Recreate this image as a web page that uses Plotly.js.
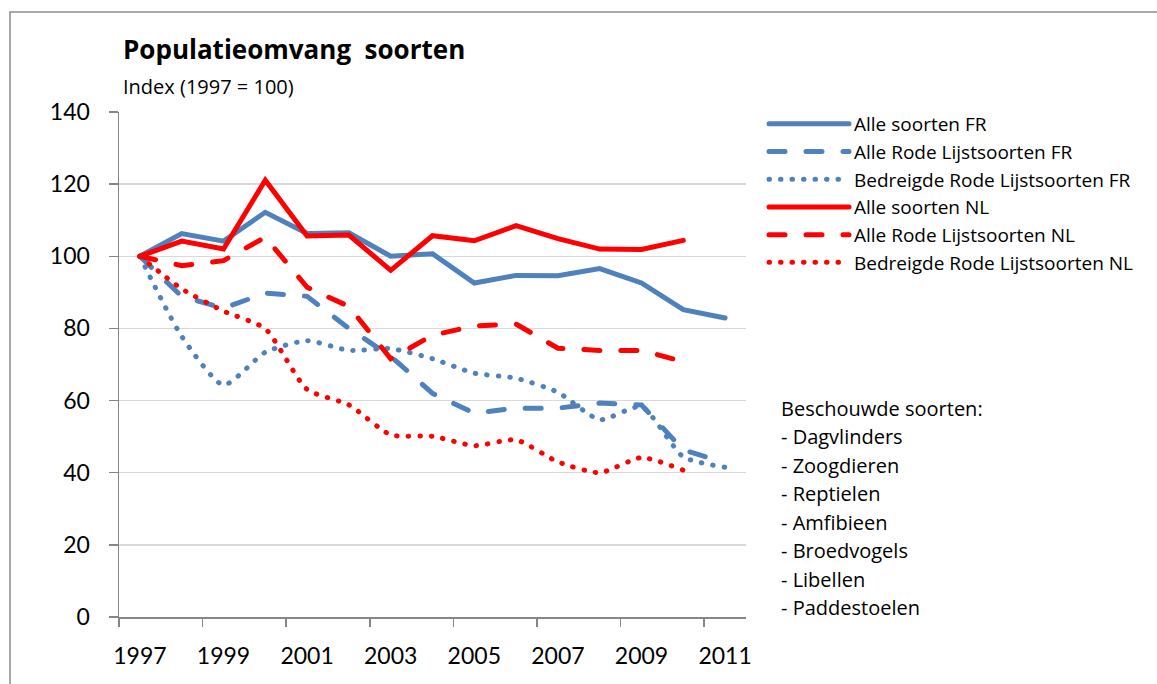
<!DOCTYPE html>
<html>
<head>
<meta charset="utf-8">
<script src="https://cdn.plot.ly/plotly-3.0.1.min.js"></script>
<style>html,body{margin:0;padding:0;background:#fff;}#chart{width:1157px;height:684px;}
#chart path.js-line{stroke-linecap:round;}</style>
</head>
<body>
<div id="chart"></div>
<script>
// ---- data ----
var years = [1997, 1998, 1999, 2000, 2001, 2002, 2003, 2004, 2005, 2006, 2007, 2008, 2009, 2010, 2011];
var alleSoortenFR = [100, 106.3, 104.2, 112.2, 106.3, 106.5, 100.0, 100.7, 92.6, 94.7, 94.6, 96.6, 92.6, 85.2, 82.9];
var rodeLijstFR = [100, 88.9, 85.6, 89.8, 88.9, 80.0, 72.3, 62.0, 56.5, 57.9, 57.9, 59.3, 58.8, 46.3, 42.8];
var bedreigdFR = [100, 77.8, 64.3, 73.4, 76.6, 73.9, 74.4, 71.6, 67.6, 66.2, 62.3, 54.7, 58.3, 44.4, 41.5];
var alleSoortenNL = [100, 104.2, 102.0, 121.1, 105.6, 105.9, 96.1, 105.7, 104.3, 108.5, 104.9, 102.0, 101.9, 104.4];
var rodeLijstNL = [100, 97.4, 98.8, 105.3, 91.4, 86.1, 71.6, 78.1, 80.7, 81.2, 74.5, 73.9, 73.9, 70.8];
var bedreigdNL = [100, 91.0, 84.8, 79.9, 63.1, 58.8, 50.5, 50.1, 47.5, 49.1, 43.0, 40.0, 44.2, 40.7];
var seriesNames = ["Alle soorten FR", "Alle Rode Lijstsoorten FR", "Bedreigde Rode Lijstsoorten FR",
                   "Alle soorten NL", "Alle Rode Lijstsoorten NL", "Bedreigde Rode Lijstsoorten NL"];
var xTickLabels = ["1997", "1999", "2001", "2003", "2005", "2007", "2009", "2011"];
var xTickVals = [1997, 1999, 2001, 2003, 2005, 2007, 2009, 2011];
var chartTitle = "Populatieomvang  soorten";
var yLabel = "Index (1997 = 100)";
var noteLines = ["Beschouwde soorten:", "- Dagvlinders", "- Zoogdieren", "- Reptielen", "- Amfibieen", "- Broedvogels", "- Libellen", "- Paddestoelen"];

// ---- styles ----
var BLUE = "#4F81BD", RED = "#FF0000";
var FONT = "'Open Sans', Lato, sans-serif";
var TICKFONT = "Lato, 'Open Sans', sans-serif";
var DASH = "16px,21px", DOT = "0.5px,11px";

function tr(y, name, color, dash, shape) {
  return {
    x: years.slice(0, y.length), y: y, name: name, type: "scatter", mode: "lines",
    line: {color: color, width: 5, dash: dash, shape: shape || "linear", smoothing: 0.6}
  };
}
var data = [
  tr(alleSoortenFR, seriesNames[0], BLUE, "solid"),
  tr(rodeLijstFR, seriesNames[1], BLUE, DASH),
  tr(bedreigdFR, seriesNames[2], BLUE, DOT, "spline"),
  tr(alleSoortenNL, seriesNames[3], RED, "solid"),
  tr(rodeLijstNL, seriesNames[4], RED, DASH),
  tr(bedreigdNL, seriesNames[5], RED, DOT, "spline")
];

// layout helpers (pixel -> paper)
var L = 119, R = 746, T = 112, B = 617, W = 1157, H = 684;
function px(x) { return (x - L) / (R - L); }
function py(y) { return (B - y) / (B - T); }

var annotations = [{
  text: yLabel, xref: "paper", yref: "paper", x: px(121), y: py(87),
  xanchor: "left", yanchor: "middle", showarrow: false,
  font: {family: FONT, size: 20, color: "#000"}
}];
noteLines.forEach(function (t, i) {
  annotations.push({
    text: t, xref: "paper", yref: "paper", x: px(779), y: py(408 + i * 28.5),
    xanchor: "left", yanchor: "middle", showarrow: false,
    font: {family: FONT, size: 20, color: "#000"}
  });
});

var layout = {
  width: W, height: H,
  margin: {l: L, r: W - R, t: T, b: H - B, pad: 0},
  paper_bgcolor: "#fff", plot_bgcolor: "#fff",
  showlegend: true,
  title: {text: "<b>" + chartTitle + "</b>", xref: "paper", x: px(123), xanchor: "left",
          yref: "container", y: 1 - 50 / H, yanchor: "middle",
          font: {family: FONT, size: 26, color: "#000"}},
  xaxis: {
    range: [1996.5, 2011.5], tickmode: "array", tickvals: xTickVals, ticktext: xTickLabels,
    ticks: "", showgrid: false, zeroline: false,
    showline: true, linecolor: "#868686", linewidth: 1.5,
    minor: {tickmode: "linear", tick0: 1996.5, dtick: 2, ticks: "outside", ticklen: 8, tickcolor: "#868686", tickwidth: 1.5, showgrid: false},
    tickfont: {family: TICKFONT, size: 23, color: "#000"}, ticklabelstandoff: 18,
    fixedrange: true
  },
  yaxis: {
    range: [0, 140], tickmode: "linear", tick0: 0, dtick: 20,
    ticks: "outside", ticklen: 9, tickcolor: "#868686", tickwidth: 1.5,
    showgrid: true, gridcolor: "#D9D9D9", gridwidth: 1.5, zeroline: false,
    showline: true, linecolor: "#868686", linewidth: 1.5,
    tickfont: {family: TICKFONT, size: 23, color: "#000"}, ticklabelstandoff: 14,
    fixedrange: true
  },
  legend: {
    x: px(764), y: py(105), xanchor: "left", yanchor: "top",
    font: {family: FONT, size: 19, color: "#000"}, itemwidth: 80,
    bgcolor: "rgba(0,0,0,0)", tracegroupgap: 0
  },
  annotations: annotations,
  shapes: [{
    type: "rect", xref: "paper", yref: "paper", x0: px(10), x1: px(1170), y0: py(700), y1: py(12),
    line: {color: "#8C8C8C", width: 1.5}, fillcolor: "rgba(0,0,0,0)", layer: "below"
  }]
};

Plotly.newPlot("chart", data, layout, {displayModeBar: false, staticPlot: true});
</script>
</body>
</html>
